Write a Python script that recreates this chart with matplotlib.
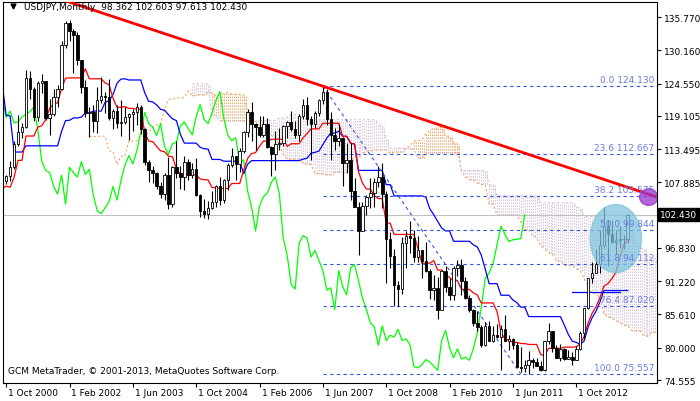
import numpy as np
import matplotlib
matplotlib.use("Agg")
import matplotlib.pyplot as plt
from matplotlib.patches import Ellipse

# history before Oct 2000 (only feeds the indicators, off-screen)
pre_closes = [132.5,138.9,138.3,144.7,141.4,136.4,116.2,123.0,113.3,
116.4,118.9,118.8,119.4,121.7,121.0,114.6,110.1,106.2,104.2,102.1,102.2,
107.3,110.0,102.7,106.7,107.7,106.1,109.6,106.7,108.1]
pre_highs = [135.3,138.9,146.8,147.6,147.7,137.1,136.9,124.3,123.5,
117.2,121.1,122.5,121.3,124.7,122.3,122.2,114.8,111.0,107.0,105.3,104.5,
107.7,112.2,111.8,108.8,109.7,108.0,109.9,109.3,108.8]
pre_lows = [127.5,132.6,137.2,138.9,139.2,129.2,111.6,115.1,111.6,
108.1,111.8,115.6,117.4,118.4,116.8,114.2,108.9,103.7,104.2,101.3,101.6,
101.5,106.6,102.3,102.6,105.1,104.0,106.0,105.3,104.6]

closes = [108.9,110.4,114.4,
116.4,117.3,125.5,123.6,118.9,124.7,124.9,118.8,119.4,122.3,123.6,131.0,
134.7,133.4,132.7,128.5,124.0,119.5,119.8,118.3,121.8,122.5,122.3,118.8,
119.9,117.9,118.1,118.9,119.4,119.8,120.6,116.8,111.4,109.9,109.5,107.2,
105.9,109.1,104.2,110.4,109.5,108.8,111.4,109.2,110.1,105.8,103.1,102.6,
103.6,104.6,107.2,104.9,108.2,110.8,112.4,111.0,113.2,116.4,119.7,117.8,
117.2,115.8,117.8,113.9,112.6,114.4,114.6,117.4,118.1,116.9,115.9,119.0,
121.0,118.5,117.8,119.6,121.7,123.2,118.6,115.8,114.9,115.4,111.1,111.7,
106.4,103.7,99.7,103.9,105.5,106.1,107.9,108.8,106.0,98.4,95.5,90.6,
89.9,97.6,98.9,98.5,95.3,96.4,94.7,93.0,89.7,90.1,86.4,93.0,
90.3,88.9,93.5,94.0,91.3,88.4,86.4,84.2,83.5,80.4,83.7,81.2,
82.1,81.8,83.1,81.2,81.5,80.5,76.8,76.6,77.1,78.0,77.6,76.9,
76.2,81.2,82.9,80.0,78.3,79.8,78.1,78.4,77.9,79.8,82.5,86.7,
91.7,92.6,94.2,97.4,100.5,99.1,97.9,98.2,98.3,98.4,102.43]
highs = [109.1,111.5,114.9,
119.2,117.9,126.8,126.6,124.0,124.9,126.1,125.0,122.0,123.6,124.3,131.7,
135.1,135.2,133.8,133.2,128.6,125.2,120.6,121.0,124.0,125.6,123.1,125.3,
120.3,121.0,121.8,120.6,119.5,120.3,121.2,121.0,117.0,111.7,110.7,109.7,
107.9,109.4,112.1,110.7,114.9,110.6,112.3,111.9,111.2,112.0,106.0,105.0,
104.8,106.5,107.4,108.8,108.4,111.2,113.7,112.2,113.6,116.5,120.2,121.4,
117.9,119.0,119.0,118.7,114.0,116.6,117.1,117.6,118.3,119.9,118.3,119.4,
121.9,122.2,119.0,120.0,121.9,124.1,123.7,119.8,117.0,117.8,115.6,114.6,
114.6,108.6,104.5,104.6,105.7,108.6,108.6,110.7,111.1,106.4,99.5,96.7,
91.2,98.6,99.7,101.4,99.8,98.9,96.5,97.8,93.3,92.3,92.0,93.1,
93.8,91.7,93.8,94.8,94.9,92.0,88.9,86.6,86.2,83.9,84.4,84.5,
83.7,84.0,83.9,85.5,82.2,81.6,81.0,80.2,77.9,79.5,78.3,78.3,
77.7,81.2,84.2,82.6,80.5,80.6,80.0,79.6,79.2,80.3,82.8,86.7,
91.3,94.5,96.7,99.9,103.7,101.5,101.5,99.9,100.6,99.0,102.6]
lows = [107.6,108.1,110.2,
114.0,115.4,117.1,121.9,118.3,118.3,123.0,118.4,115.8,119.0,120.6,123.5,
130.5,131.7,126.4,127.7,123.0,118.9,115.5,116.4,116.2,121.3,119.5,118.4,
116.8,117.1,115.7,117.8,115.1,116.6,117.6,116.1,110.8,107.9,107.7,106.7,
105.2,104.9,103.4,103.8,108.7,106.8,106.6,108.3,108.7,105.6,102.0,101.8,
101.7,103.4,103.7,104.1,104.4,106.6,110.4,108.3,109.6,112.8,115.6,114.9,
113.4,115.6,115.5,113.6,108.9,110.0,113.4,114.0,115.4,116.5,115.3,114.8,
118.5,117.5,111.6,117.1,119.0,121.1,117.6,111.6,113.3,114.1,107.2,109.4,
104.9,104.6,95.7,99.6,102.3,103.5,103.7,107.1,103.5,90.9,93.5,87.1,
87.1,89.1,93.5,96.0,94.4,94.5,91.7,92.8,88.2,88.0,84.8,86.3,
89.4,88.1,88.1,92.1,88.9,88.2,86.0,83.6,82.9,80.2,80.3,81.1,
81.0,81.6,76.3,81.2,79.6,79.7,77.2,75.9,75.9,75.6,76.6,76.9,
76.0,76.1,80.6,79.2,78.2,77.7,77.9,78.1,77.1,77.9,79.6,81.7,
86.5,90.9,92.6,92.6,96.8,93.8,97.6,95.8,96.9,96.6,97.6]
date_labels = ["1 Oct 2000","1 Feb 2002","1 Jun 2003","1 Oct 2004","1 Feb 2006",
               "1 Jun 2007","1 Oct 2008","1 Feb 2010","1 Jun 2011","1 Oct 2012"]
date_idx = [0,16,32,48,64,80,96,112,128,144]
yticks = [135.770,130.160,124.550,119.105,113.495,107.885,96.830,91.220,85.610,80.000,74.555]
fib_pct = [0.0,23.6,38.2,50.0,61.8,76.4,100.0]
fib_high, fib_low = 124.130, 75.557
fib_start = 80
trend_x = [15, 164]
trend_y = [138.5, 105.5]
last_price = 102.430

npre = len(pre_closes)
c = np.array(pre_closes + closes); h = np.array(pre_highs + highs); l = np.array(pre_lows + lows)
o = np.concatenate([[c[0]], c[:-1]])
N = len(c); idx = np.arange(N) - npre
n = len(closes)

def mid(p):
    out = np.full(N, np.nan)
    for i in range(p-1, N):
        out[i] = (h[i-p+1:i+1].max() + l[i-p+1:i+1].min())/2
    return out
tenkan = mid(9); kijun = mid(26); spanb = mid(52)
spana = (tenkan+kijun)/2

fig = plt.figure(figsize=(7.0,4.02), dpi=100)
ax = fig.add_axes([3/700, 18/402, 654/700, 381/402])
ax.set_xlim(-0.8, 164.4); ax.set_ylim(74.05, 138.3)

sx = idx + 26
for i in range(N):
    a, b = spana[i], spanb[i]
    if np.isnan(a) or np.isnan(b): continue
    col = '#F4A460' if a >= b else '#D8BFD8'
    for dx in (0.0, 0.5):
        ax.vlines(sx[i]+dx, min(a,b), max(a,b), colors=col, linestyles=(0,(1.5,1.5)), lw=0.7, zorder=1)
ax.plot(sx, spana, color='#F4A460', ls=(0,(2,2)), lw=0.8, zorder=1)
ax.plot(sx, spanb, color='#D8BFD8', ls=(0,(2,2)), lw=0.8, zorder=1)

ax.plot(idx-26, c, color='#00FF00', lw=0.9, zorder=2)
ax.plot(idx, kijun, color='#0000FF', lw=0.9, zorder=2)
ax.plot(idx, tenkan, color='#FF0000', lw=0.9, zorder=2)

for p in fib_pct:
    v = fib_high - (fib_high-fib_low)*p/100
    ax.plot([fib_start, 164.4], [v, v], color='#3355DD', ls=(0,(3,3)), lw=0.8, zorder=2)
    ax.text(163.8, v+0.4, f"{p:.1f} {v:.3f}", color='#6A7BE0', fontsize=6.5, ha='right', va='bottom', zorder=6)
ax.plot([fib_start, 130], [fib_high, fib_low], color='#3355DD', ls=(0,(3,3)), lw=0.8, zorder=2)

ax.axhline(last_price, color='#C0C0C0', lw=0.8, zorder=1.5)

for i in range(npre, N):
    ax.vlines(idx[i], l[i], h[i], color='black', lw=0.8, zorder=3)
    lo_, hi_ = min(o[i], c[i]), max(o[i], c[i])
    fc = 'white' if c[i] >= o[i] else 'black'
    ax.add_patch(plt.Rectangle((idx[i]-0.32, lo_), 0.64, max(hi_-lo_, 0.08), fc=fc, ec='black', lw=0.6, zorder=4))

ax.plot([n-15, n-3], [89.4, 89.4], color='#0000FF', lw=0.9, zorder=2)
ax.plot(trend_x, trend_y, color='#FF0000', lw=2.0, zorder=5)
ax.add_patch(Ellipse((n-4, 98.4), 13, 11.5, color='#7FC4DC', alpha=0.75, zorder=5))
ax.add_patch(Ellipse((162.3, 105.4), 4.6, 2.8, color='#9933CC', alpha=0.75, zorder=5))

ax.yaxis.tick_right()
ax.set_yticks(yticks); ax.set_yticklabels([f"{v:.3f}" for v in yticks])
ax.set_xticks(date_idx); ax.set_xticklabels([])
for di, dl in zip(date_idx, date_labels):
    ax.text(di+0.5, 74.05-0.9, dl, fontsize=6.5, ha='left', va='top', clip_on=False)
ax.tick_params(axis='y', labelsize=6.5, length=3, pad=2)
ax.tick_params(axis='x', length=3, direction='out')
for s in ax.spines.values(): s.set_linewidth(0.8)
ax.text(165.2, last_price, f"{last_price:.3f}", fontsize=6.5, color='white', va='center', ha='left',
        bbox=dict(fc='black', ec='black', pad=1.5), clip_on=False, zorder=7)
ax.text(4.5, 137.5, "USDJPY,Monthly  98.362 102.603 97.613 102.430", fontsize=6.5, va='center', color='black', zorder=7)
ax.plot([1.6], [137.6], marker='v', color='black', ms=3.5)
ax.text(0.5, 75.4, "GCM MetaTrader, © 2001-2013, MetaQuotes Software Corp.", fontsize=6.5, va='bottom', zorder=7)
fig.savefig("out.png", dpi=100)
